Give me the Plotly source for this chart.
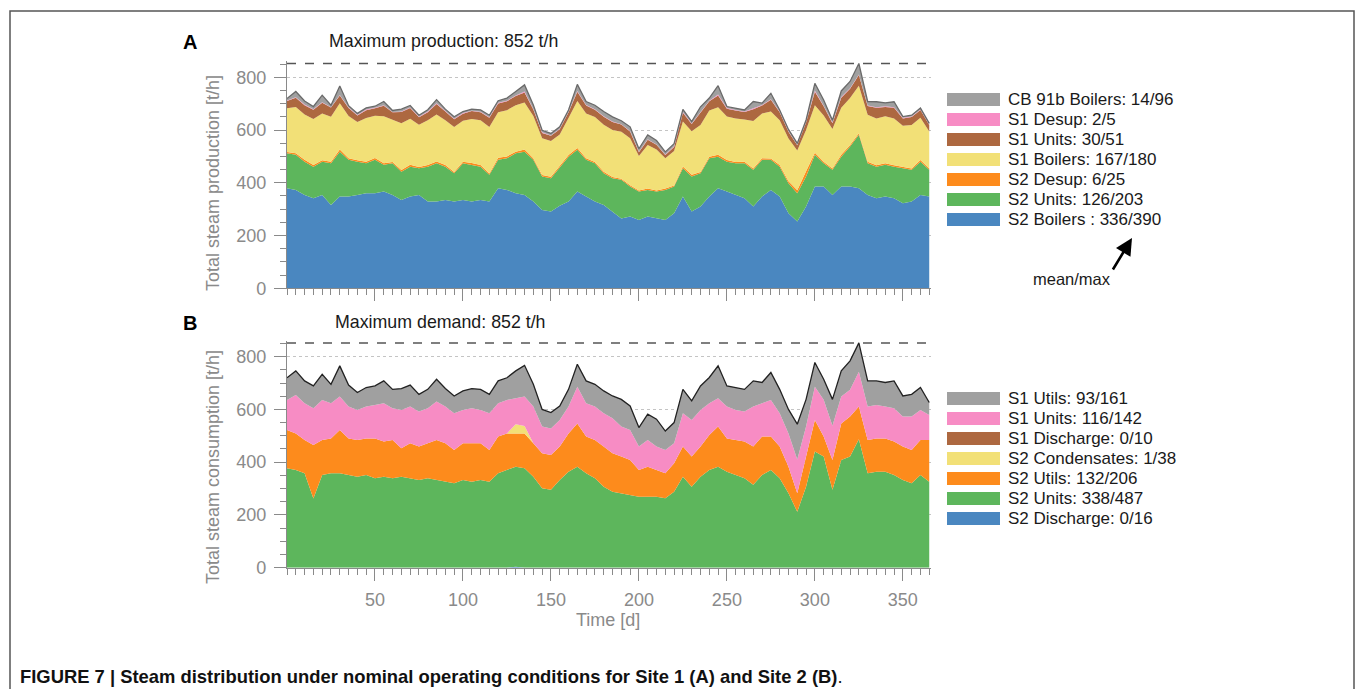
import plotly.graph_objects as go

W, H = 1355, 689
H_EFF = 679  # vertical extent actually seen in the photographed page

days = list(range(0, 366, 5))

# ---------------- Panel A: steam production (t/h) ----------------
a_s2_boilers = [379, 373, 354, 341, 354, 316, 348, 348, 354, 360, 360, 367, 354, 335, 348, 354, 329, 329, 335, 329,
                335, 329, 335, 329, 379, 373, 360, 354, 329, 297, 291, 313, 329, 367, 348, 329, 316, 291, 265, 272,
                259, 272, 265, 259, 284, 348, 291, 310, 348, 379, 367, 354, 341, 310, 348, 373, 348, 284, 253, 310,
                386, 386, 354, 386, 386, 379, 354, 341, 348, 341, 322, 329, 354, 348]
a_s2_units = [133, 133, 126, 120, 126, 158, 170, 139, 126, 114, 127, 101, 120, 107, 113, 101, 132, 145, 126, 107,
              139, 139, 126, 101, 108, 120, 152, 164, 158, 127, 126, 145, 170, 158, 139, 145, 120, 126, 146, 114,
              108, 101, 102, 114, 102, 107, 133, 126, 145, 120, 113, 120, 133, 139, 139, 114, 113, 114, 107, 114,
              120, 88, 95, 113, 151, 203, 120, 120, 120, 120, 133, 120, 126, 101]
a_s2_desup = [5, 6, 7, 6, 5, 6, 8, 6, 5, 6, 7, 6, 5, 6, 7, 5, 6, 7, 6, 5,
              6, 7, 6, 5, 8, 7, 6, 8, 6, 5, 6, 5, 6, 7, 6, 5, 6, 5, 4, 5,
              4, 5, 4, 5, 4, 7, 6, 5, 6, 7, 6, 5, 6, 5, 6, 5, 6, 8, 12, 20,
              8, 6, 5, 7, 6, 6, 6, 5, 6, 5, 6, 5, 6, 5]
a_s1_boilers = [165, 175, 172, 175, 178, 170, 175, 160, 145, 165, 160, 178, 160, 178, 175, 160, 170, 178, 170, 170,
                155, 167, 170, 176, 172, 175, 176, 178, 160, 140, 135, 120, 140, 178, 170, 170, 178, 178, 178, 178,
                130, 165, 155, 115, 130, 170, 165, 178, 175, 180, 165, 165, 160, 180, 170, 178, 170, 162, 150, 156,
                180, 175, 150, 178, 178, 180, 178, 178, 178, 178, 155, 165, 160, 140]
a_s1_units = [28, 35, 35, 35, 40, 35, 30, 30, 25, 30, 28, 40, 28, 42, 40, 28, 30, 40, 33, 30,
              27, 30, 30, 35, 33, 34, 35, 38, 25, 20, 20, 20, 22, 35, 30, 28, 30, 30, 28, 25,
              15, 20, 18, 12, 16, 33, 28, 45, 35, 45, 30, 30, 28, 45, 30, 45, 30, 25, 20, 28,
              51, 35, 22, 38, 35, 40, 33, 40, 35, 40, 28, 30, 30, 25]
a_s1_desup = [2, 2, 3, 2, 2, 1, 2, 2, 2, 3, 2, 2, 1, 2, 2, 2, 3, 2, 2, 2,
              2, 1, 2, 2, 3, 2, 2, 4, 2, 2, 1, 2, 2, 3, 2, 2, 2, 2, 1, 2,
              2, 2, 1, 2, 2, 3, 2, 2, 2, 4, 2, 2, 2, 3, 2, 2, 2, 2, 1, 2,
              5, 2, 2, 3, 2, 2, 2, 2, 3, 2, 2, 2, 2, 2]
a_cb91b = [7, 22, 13, 10, 27, 8, 34, 7, 6, 6, 6, 14, 6, 9, 8, 6, 7, 14, 7, 7,
           6, 6, 7, 8, 8, 10, 15, 25, 15, 8, 8, 7, 7, 25, 13, 15, 18, 18, 13, 16,
           11, 16, 15, 10, 10, 10, 7, 22, 10, 33, 6, 6, 6, 26, 7, 22, 7, 7, 6, 8,
           27, 22, 9, 23, 26, 42, 15, 21, 13, 21, 5, 5, 5, 4]

# ---------------- Panel B: steam consumption (t/h) ----------------
b_s2_discharge = [0] * 26 + [4] + [0] * 47
b_s2_units = [377, 370, 358, 262, 351, 358, 358, 351, 345, 351, 339, 345, 339, 345, 339, 332, 339, 332, 326, 320,
              332, 326, 332, 326, 358, 370, 379, 377, 345, 301, 295, 332, 364, 383, 358, 339, 307, 288, 282, 276,
              269, 269, 269, 263, 288, 345, 307, 345, 370, 383, 364, 351, 339, 314, 351, 370, 339, 282, 212, 307,
              440, 421, 295, 408, 421, 487, 358, 364, 364, 351, 332, 320, 351, 326]
b_s2_utils = [145, 139, 126, 203, 133, 132, 164, 139, 139, 139, 151, 133, 145, 108, 133, 127, 133, 152, 146, 126,
              140, 146, 140, 120, 139, 139, 126, 132, 127, 133, 132, 127, 145, 164, 139, 145, 152, 146, 139, 132,
              101, 114, 101, 95, 108, 114, 114, 114, 133, 152, 126, 133, 139, 145, 146, 127, 120, 101, 70, 114,
              120, 76, 113, 139, 152, 124, 126, 126, 126, 127, 127, 126, 133, 158]
b_s2_condensates = [0] * 26 + [35, 28] + [0] * 46
b_s1_discharge = [0] * 74
b_s1_units = [114, 146, 139, 139, 152, 133, 127, 121, 114, 121, 127, 145, 120, 145, 139, 133, 132, 146, 139, 139,
              126, 132, 126, 139, 126, 127, 98, 112, 139, 101, 101, 101, 102, 139, 126, 127, 126, 132, 114, 114,
              89, 101, 89, 88, 76, 126, 139, 139, 120, 107, 121, 114, 114, 152, 126, 139, 126, 126, 128, 114,
              126, 140, 130, 102, 101, 132, 127, 127, 121, 126, 114, 127, 114, 95]
b_s1_utils = [84, 91, 85, 85, 97, 72, 116, 81, 66, 72, 72, 85, 72, 81, 81, 65, 72, 84, 68, 66,
              72, 75, 78, 72, 85, 84, 104, 118, 84, 65, 60, 53, 65, 85, 85, 84, 85, 85, 103, 91,
              72, 98, 104, 72, 78, 91, 72, 91, 98, 123, 78, 85, 84, 97, 79, 104, 91, 91, 134, 103,
              92, 77, 100, 97, 110, 109, 97, 91, 91, 104, 78, 84, 85, 47]

a_names = ["S2 Boilers", "S2 Units", "S2 Desup", "S1 Boilers", "S1 Units", "S1 Desup", "CB 91b Boilers"]
a_series = [a_s2_boilers, a_s2_units, a_s2_desup, a_s1_boilers, a_s1_units, a_s1_desup, a_cb91b]
b_names = ["S2 Discharge", "S2 Units", "S2 Utils", "S2 Condensates", "S1 Discharge", "S1 Units", "S1 Utils"]
b_series = [b_s2_discharge, b_s2_units, b_s2_utils, b_s2_condensates, b_s1_discharge, b_s1_units, b_s1_utils]

# legend labels (top to bottom), mean/max
a_legend = ["CB 91b Boilers: 14/96", "S1 Desup: 2/5", "S1 Units: 30/51", "S1 Boilers: 167/180",
            "S2 Desup: 6/25", "S2 Units: 126/203", "S2 Boilers : 336/390"]
b_legend = ["S1 Utils: 93/161", "S1 Units: 116/142", "S1 Discharge: 0/10", "S2 Condensates: 1/38",
            "S2 Utils: 132/206", "S2 Units: 338/487", "S2 Discharge: 0/16"]
max_value = 852

COL_BLUE = "#4a87c0"
COL_GREEN = "#5db65c"
COL_ORANGE = "#fd8b1c"
COL_YELLOW = "#f2e077"
COL_BROWN = "#ad6840"
COL_PINK = "#f78cc4"
COL_GRAY = "#a0a0a0"
a_colors = [COL_BLUE, COL_GREEN, COL_ORANGE, COL_YELLOW, COL_BROWN, COL_PINK, COL_GRAY]
b_colors = [COL_BLUE, COL_GREEN, COL_ORANGE, COL_YELLOW, COL_BROWN, COL_PINK, COL_GRAY]

fig = go.Figure()

for i, (nm, vals, col) in enumerate(zip(a_names, a_series, a_colors)):
    top = i == len(a_names) - 1
    fig.add_trace(go.Scatter(x=days, y=vals, name=nm, stackgroup="a", mode="lines",
                             line=dict(width=1.3 if top else 0, color="#6a6a6a" if top else col),
                             fillcolor=col, xaxis="x", yaxis="y", showlegend=False))
for i, (nm, vals, col) in enumerate(zip(b_names, b_series, b_colors)):
    top = i == len(b_names) - 1
    fig.add_trace(go.Scatter(x=days, y=vals, name=nm, stackgroup="b", mode="lines",
                             line=dict(width=1.3 if top else 0, color="#222222" if top else col),
                             fillcolor=col, xaxis="x2", yaxis="y2", showlegend=False))


def px(x):
    return x / W


def py(y):
    return 1 - y / H_EFF


FONT = "Liberation Sans, Arial, Helvetica, sans-serif"
AXC = "#8a8a8a"

xdom = [px(287), px(931)]
ydomA = [py(288.3), py(61.4)]
ydomB = [py(567.7), py(340.8)]

xcommon = dict(range=[0, 366], showline=True, linecolor=AXC, linewidth=1.3, ticks="outside", ticklen=12,
               tickwidth=1.3, tickcolor=AXC, tickvals=[50, 100, 150, 200, 250, 300, 350],
               tickfont=dict(family=FONT, size=18, color=AXC), showgrid=False, zeroline=False,
               ticklabelstandoff=4,
               minor=dict(dtick=5, tick0=0, ticks="outside", ticklen=6, tickwidth=1.2, tickcolor=AXC, showgrid=False),
               domain=xdom)
ycommon = dict(range=[0, 860], showline=True, linecolor=AXC, linewidth=1.3, ticks="outside", ticklen=12,
               tickwidth=1.3, tickcolor=AXC, tickvals=[0, 200, 400, 600, 800],
               tickfont=dict(family=FONT, size=18, color=AXC), showgrid=True, gridcolor="#c4c4c4",
               griddash="dot", gridwidth=1, zeroline=False, ticklabelstandoff=4,
               minor=dict(dtick=50, tick0=0, ticks="outside", ticklen=6, tickwidth=1.2, tickcolor=AXC, showgrid=False))

fig.update_layout(
    width=W, height=H, margin=dict(l=0, r=0, t=0, b=0),
    paper_bgcolor="white", plot_bgcolor="white",
    xaxis=dict(xcommon, anchor="y", showticklabels=False),
    yaxis=dict(ycommon, anchor="x", domain=ydomA),
    xaxis2=dict(xcommon, anchor="y2", showticklabels=True),
    yaxis2=dict(ycommon, anchor="x2", domain=ydomB),
    font=dict(family=FONT),
)

shapes = []
# frame
shapes.append(dict(type="rect", xref="paper", yref="paper", x0=px(10), x1=px(1354), y0=-0.05, y1=py(11),
                   line=dict(color="#555555", width=1.5), fillcolor="rgba(0,0,0,0)", layer="above"))
# maximum dashed lines
for xr, yr in (("x", "y"), ("x2", "y2")):
    shapes.append(dict(type="line", xref=xr, yref=yr, x0=0, x1=366, y0=max_value, y1=max_value,
                       line=dict(color="#555555", width=1.5, dash="dash"), layer="above"))

annotations = []
# legend boxes and labels
legend_colors = [COL_GRAY, COL_PINK, COL_BROWN, COL_YELLOW, COL_ORANGE, COL_GREEN, COL_BLUE]
for rows, y0 in ((a_legend, 99.5), (b_legend, 398.5)):
    for k, (lab, col) in enumerate(zip(rows, legend_colors)):
        yc = y0 + 20 * k
        shapes.append(dict(type="rect", xref="paper", yref="paper", x0=px(947), x1=px(1000),
                           y0=py(yc + 6.5), y1=py(yc - 6.5), fillcolor=col, line=dict(width=0)))
        annotations.append(dict(xref="paper", yref="paper", x=px(1006), y=py(yc), text=lab, showarrow=False,
                                xanchor="left", yanchor="middle", font=dict(family=FONT, size=17, color="#1a1a1a")))

# mean/max arrow
annotations.append(dict(xref="paper", yref="paper", x=px(1132), y=py(238), text="", showarrow=True,
                        ax=-20, ay=33, arrowhead=2, arrowsize=1.3, arrowwidth=2.6, arrowcolor="#000000"))
annotations.append(dict(xref="paper", yref="paper", x=px(1072), y=py(279), text="mean/max", showarrow=False,
                        xanchor="center", yanchor="middle", font=dict(family=FONT, size=16.5, color="#1a1a1a")))

# panel labels / titles
annotations += [
    dict(xref="paper", yref="paper", x=px(190), y=py(42), text="<b>A</b>", showarrow=False,
         xanchor="center", yanchor="middle", font=dict(family=FONT, size=20, color="#000")),
    dict(xref="paper", yref="paper", x=px(190), y=py(323), text="<b>B</b>", showarrow=False,
         xanchor="center", yanchor="middle", font=dict(family=FONT, size=20, color="#000")),
    dict(xref="paper", yref="paper", x=px(443), y=py(41), text="Maximum production: %d t/h" % max_value,
         showarrow=False, xanchor="center", yanchor="middle", font=dict(family=FONT, size=17.8, color="#1a1a1a")),
    dict(xref="paper", yref="paper", x=px(441), y=py(322), text="Maximum demand: %d t/h" % max_value,
         showarrow=False, xanchor="center", yanchor="middle", font=dict(family=FONT, size=17.8, color="#1a1a1a")),
    dict(xref="paper", yref="paper", x=px(213), y=py(183), text="Total steam production [t/h]", textangle=-90,
         showarrow=False, xanchor="center", yanchor="middle", font=dict(family=FONT, size=18, color=AXC)),
    dict(xref="paper", yref="paper", x=px(213), y=py(467), text="Total steam consumption [t/h]", textangle=-90,
         showarrow=False, xanchor="center", yanchor="middle", font=dict(family=FONT, size=18, color=AXC)),
    dict(xref="paper", yref="paper", x=px(608), y=py(620), text="Time [d]", showarrow=False,
         xanchor="center", yanchor="middle", font=dict(family=FONT, size=18, color=AXC)),
    dict(xref="paper", yref="paper", x=px(18), y=py(676),
         text="<b>FIGURE 7 | Steam distribution under nominal operating conditions for Site 1 (A) and Site 2 (B)</b>.",
         showarrow=False, xanchor="left", yanchor="middle",
         font=dict(family="Liberation Sans, Arial", size=18.4, color="#111")),
]

fig.update_layout(shapes=shapes, annotations=annotations)
fig.write_html("out.html")
